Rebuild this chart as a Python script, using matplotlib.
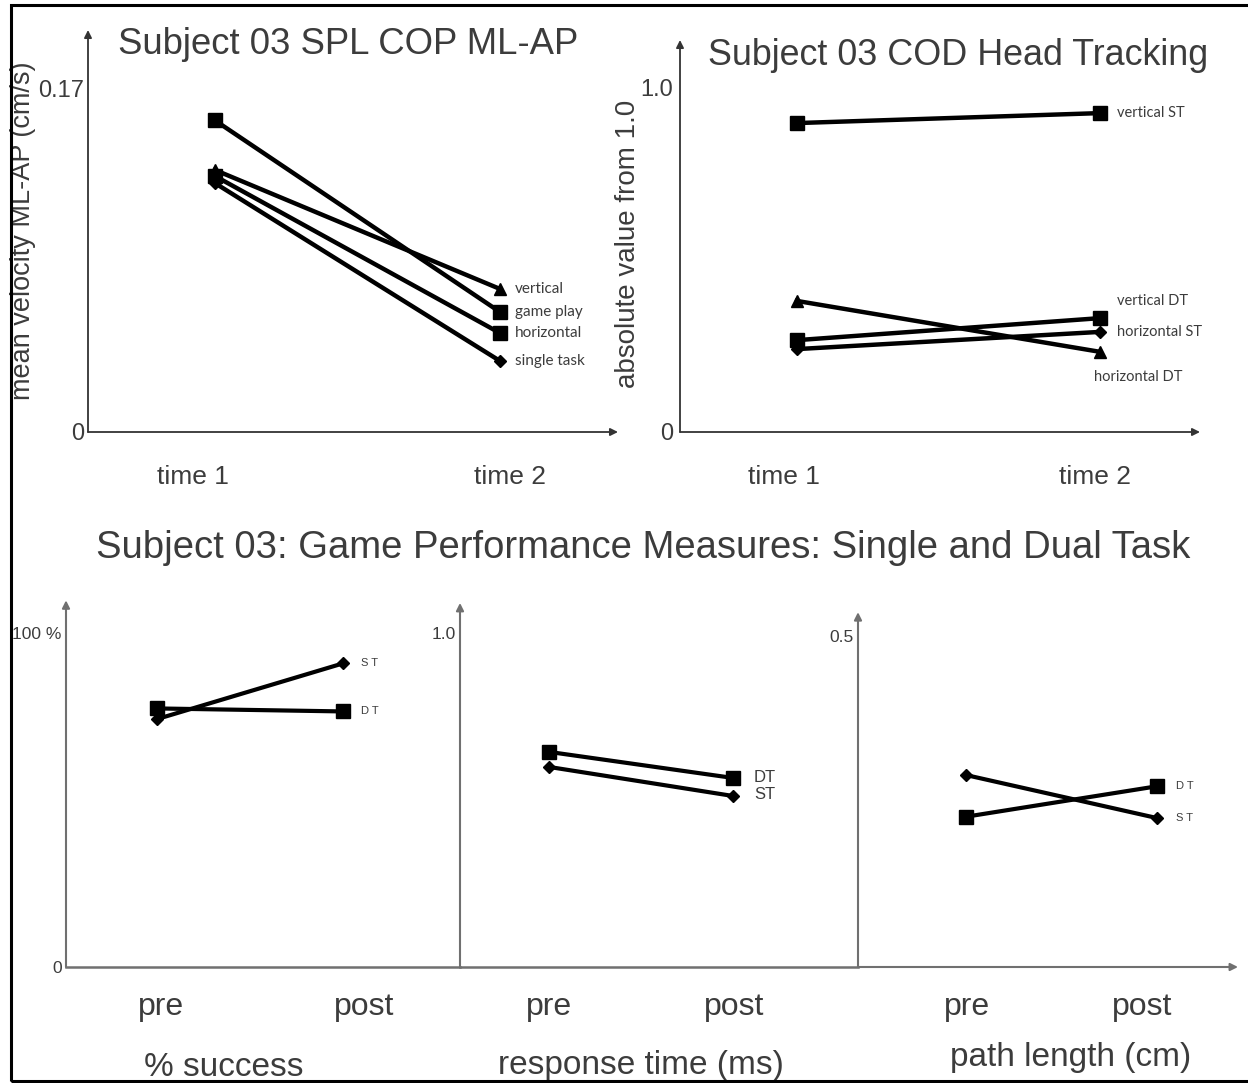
import matplotlib
matplotlib.use('Agg')
import matplotlib.pyplot as plt
from matplotlib.patches import Rectangle

plt.rcParams['font.family'] = ['Liberation Sans', 'DejaVu Sans']

W, H = 1248, 1083
TXT = '#3c3c3c'

# ---- data ----
times = ['time 1', 'time 2']
cop_names = ['vertical', 'game play', 'horizontal', 'single task']
cop_t1 = [0.1295, 0.154, 0.1265, 0.123]
cop_t2 = [0.0707, 0.0593, 0.0489, 0.0351]
cop_marks = ['^', 's', 's', 'D']

head_names = ['vertical ST', 'vertical DT', 'horizontal ST', 'horizontal DT']
head_t1 = [0.898, 0.267, 0.241, 0.381]
head_t2 = [0.927, 0.331, 0.291, 0.233]
head_marks = ['s', 's', 'D', '^']

phases = ['pre', 'post']
success_st = [74.3, 91.0]
success_dt = [77.5, 76.6]
rt_st = [0.599, 0.512]
rt_dt = [0.644, 0.566]
path_st = [0.290, 0.225]
path_dt = [0.227, 0.273]


def box(x0, y0, x1, y1):
    return [x0 / W, 1 - y1 / H, (x1 - x0) / W, (y1 - y0) / H]


def arrow(ax, xy, xytext, coords, color, lw):
    ax.annotate('', xy=xy, xytext=xytext, xycoords=coords, textcoords=coords,
                arrowprops=dict(arrowstyle='-|>', color=color, lw=lw,
                                mutation_scale=11, shrinkA=0, shrinkB=0))


def bare(ax):
    for s in ax.spines.values():
        s.set_visible(False)
    ax.tick_params(length=0, colors=TXT)
    ax.patch.set_alpha(0)


def mk_size(m):
    return {'s': 10, '^': 9, 'D': 6}[m]


fig = plt.figure(figsize=(W / 100, H / 100), dpi=100)

# ---- top left: COP ----
ax1 = fig.add_axes(box(88, 30, 618, 432))
bare(ax1)
for name, a, b, m in zip(cop_names, cop_t1, cop_t2, cop_marks):
    ax1.plot([0, 1], [a, b], color='black', lw=3.2, marker=m, ms=mk_size(m), clip_on=False)
    ax1.annotate(name, (1, b), xytext=(11, 0), textcoords='offset points',
                 va='center', ha='left', fontsize=11, color=TXT, family=['Lato', 'DejaVu Sans'])
ax1.set_xlim(-0.4456, 1.414)
ax1.set_ylim(0, 0.1987)
ax1.set_xticks([-0.077, 1.035], times, fontsize=19)
ax1.tick_params(axis='x', pad=24)
ax1.set_yticks([0, 0.17], ['0', '0.17'], fontsize=17)
ax1.tick_params(axis='y', pad=3)
ax1.set_ylabel('mean velocity ML-AP (cm/s)', fontsize=19.5, color=TXT)
ax1.yaxis.set_label_coords(-0.098, 0.5)
ax1.set_title('Subject 03 SPL COP ML-AP', fontsize=26.3, color=TXT, x=0.49, y=0.92)
arrow(ax1, (0, 1), (0, 0), 'axes fraction', '#333333', 1.3)
arrow(ax1, (1, 0), (0, 0), 'axes fraction', '#333333', 1.3)

# ---- top right: head tracking ----
ax2 = fig.add_axes(box(680, 40, 1200, 432))
bare(ax2)
head_off = [(12, 0), (12, 12), (12, 0), (-4, -18)]
for name, a, b, m, off in zip(head_names, head_t1, head_t2, head_marks, head_off):
    ax2.plot([0, 1], [a, b], color='black', lw=3.2, marker=m, ms=mk_size(m), clip_on=False)
    ax2.annotate(name, (1, b), xytext=off, textcoords='offset points',
                 va='center', ha='left', fontsize=10.5, color=TXT, family=['Lato', 'DejaVu Sans'])
ax2.set_xlim(-0.386, 1.330)
ax2.set_ylim(0, 1.1395)
ax2.set_xticks([-0.043, 0.983], times, fontsize=19)
ax2.tick_params(axis='x', pad=24)
ax2.set_yticks([0, 1.0], ['0', '1.0'], fontsize=17)
ax2.tick_params(axis='y', pad=5)
ax2.set_ylabel('absolute value from 1.0', fontsize=20, color=TXT)
ax2.yaxis.set_label_coords(-0.075, 0.48)
ax2.set_title('Subject 03 COD Head Tracking', fontsize=25.8, color=TXT, x=0.535, y=0.915)
arrow(ax2, (0, 1), (0, 0), 'axes fraction', '#333333', 1.3)
arrow(ax2, (1, 0), (0, 0), 'axes fraction', '#333333', 1.3)

# ---- bottom row: game performance ----
fig.text(643 / W, 1 - 548 / H, 'Subject 03: Game Performance Measures: Single and Dual Task',
         ha='center', va='center', fontsize=27.5, color=TXT)

bottom = [
    dict(px=(66, 460), st=success_st, dt=success_dt, xlim=(-0.489, 1.629), ylim=110.0,
         yt=[0, 100], ytl=['0', '100 %'], arrow_top=109.9, ticks=[0.02, 1.113],
         label='% success', lab=(0.40, -0.232), offs=((13, 0), (13, 0)), lfs=8),
    dict(px=(460, 858), st=rt_st, dt=rt_dt, xlim=(-0.4837, 1.679), ylim=1.0988,
         yt=[1.0], ytl=['1.0'], arrow_top=1.09, ticks=[0.0, 1.005],
         label='response time (ms)', lab=(0.455, -0.226), offs=((15, 0), (15, 1)), lfs=12),
    dict(px=(858, 1238), st=path_st, dt=path_dt, xlim=(-0.565, 1.424), ylim=0.5544,
         yt=[0.5], ytl=['0.5'], arrow_top=0.536, ticks=[0.005, 0.921],
         label='path length (cm)', lab=(0.56, -0.204), offs=((14, 0), (14, 0)), lfs=8),
]
for i, p in enumerate(bottom):
    ax = fig.add_axes(box(p['px'][0], 600, p['px'][1], 967))
    bare(ax)
    ax.plot([0, 1], p['dt'], color='black', lw=3, marker='s', ms=10, clip_on=False)
    ax.plot([0, 1], p['st'], color='black', lw=3, marker='D', ms=6, clip_on=False)
    ax.annotate('D T' if p['lfs'] < 10 else 'DT', (1, p['dt'][1]), xytext=p['offs'][0],
                textcoords='offset points', va='center', ha='left', fontsize=p['lfs'], color=TXT)
    ax.annotate('S T' if p['lfs'] < 10 else 'ST', (1, p['st'][1]), xytext=p['offs'][1],
                textcoords='offset points', va='center', ha='left', fontsize=p['lfs'], color=TXT)
    ax.set_xlim(*p['xlim'])
    ax.set_ylim(0, p['ylim'])
    ax.set_yticks(p['yt'], p['ytl'], fontsize=12.5)
    ax.tick_params(axis='y', pad=3)
    ax.set_xticks(p['ticks'], phases, fontsize=23)
    ax.tick_params(axis='x', pad=18)
    ax.set_xlabel(p['label'], fontsize=24, color=TXT)
    ax.xaxis.set_label_coords(*p['lab'])
    arrow(ax, (0, p['arrow_top']), (0, 0), ('axes fraction', 'data'), '#707070', 1.5)
    if i < 2:
        ax.plot([0, 1], [0, 0], transform=ax.transAxes, color='#707070', lw=1.8, clip_on=False)
    else:
        arrow(ax, (1, 0), (0, 0), 'axes fraction', '#707070', 1.5)

# frame round the whole picture (right edge lies outside the image)
fig.add_artist(Rectangle((11 / W, 1 - 1081 / H), 1.0, (1081 - 5) / H,
                         transform=fig.transFigure, fill=False, ec='black', lw=2.2))

fig.savefig('out.png', dpi=100)
